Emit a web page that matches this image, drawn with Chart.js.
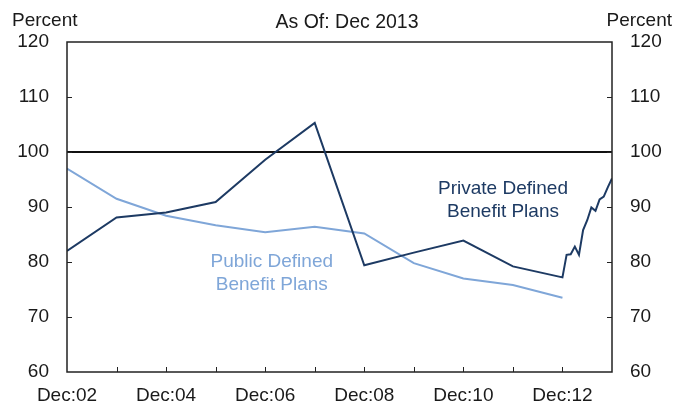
<!DOCTYPE html>
<html>
<head>
<meta charset="utf-8">
<script src="https://cdn.jsdelivr.net/npm/chart.js@4.4.1/dist/chart.umd.min.js"></script>
<style>
  html, body { margin: 0; padding: 0; background: #ffffff; }
  #wrap { width: 680px; height: 404px; position: relative; }
</style>
</head>
<body>
<div id="wrap"><canvas id="c" width="680" height="404"></canvas></div>
<script>
// ---- Data ----
const privateDates = ["2002-12","2003-12","2004-12","2005-12","2006-12","2007-12","2008-12","2009-12","2010-12","2011-12","2012-12",
  "2013-01","2013-02","2013-03","2013-04","2013-05","2013-06","2013-07","2013-08","2013-09","2013-10","2013-11","2013-12"];
const privateValues = [82.0, 88.1, 89.0, 90.9, 98.6, 105.3, 79.4, 81.7, 83.9, 79.2, 77.2,
  81.3, 81.4, 82.8, 81.3, 85.8, 87.6, 89.9, 89.3, 91.4, 91.9, 93.6, 95.2];
const publicDates = ["2002-12","2003-12","2004-12","2005-12","2006-12","2007-12","2008-12","2009-12","2010-12","2011-12","2012-12"];
const publicValues = [97.0, 91.5, 88.4, 86.7, 85.4, 86.4, 85.2, 79.8, 77.0, 75.8, 73.5];
const xTickLabels = ["Dec:02","Dec:04","Dec:06","Dec:08","Dec:10","Dec:12"];
const yTicks = [60, 70, 80, 90, 100, 110, 120];
const titleText = "As Of: Dec 2013";
const unitText = "Percent";
const privateLabel = ["Private Defined", "Benefit Plans"];
const publicLabel = ["Public Defined", "Benefit Plans"];

const PRIVATE_COLOR = "#1d3a63";
const PUBLIC_COLOR = "#7fa6d8";
const FONT = "'Liberation Sans', Arial, Helvetica, sans-serif";

// month index relative to Dec 2002
function monthIndex(s) {
  const [y, m] = s.split("-").map(Number);
  return (y - 2002) * 12 + (m - 12);
}
const privatePts = privateDates.map((d, i) => ({ x: monthIndex(d), y: privateValues[i] }));
const publicPts = publicDates.map((d, i) => ({ x: monthIndex(d), y: publicValues[i] }));

const decorPlugin = {
  id: "decor",
  beforeDatasetsDraw(chart) {
    const { ctx, chartArea: a, scales } = chart;
    const y = scales.y;
    ctx.save();
    ctx.strokeStyle = "#111";
    ctx.lineWidth = 2;
    const py = Math.round(y.getPixelForValue(100));
    ctx.beginPath();
    ctx.moveTo(a.left, py); ctx.lineTo(a.right, py);
    ctx.stroke();
    ctx.restore();
  },
  afterDatasetsDraw(chart) {
    const { ctx, chartArea: a, scales } = chart;
    const y = scales.y, x = scales.x;
    ctx.save();
    ctx.strokeStyle = "#222";
    ctx.lineWidth = 1.5;
    ctx.strokeRect(a.left, a.top, a.right - a.left, a.bottom - a.top);
    ctx.lineWidth = 1;
    ctx.beginPath();
    yTicks.forEach(v => {
      if (v === 60 || v === 120) return;
      const p = Math.round(y.getPixelForValue(v)) + 0.5;
      ctx.moveTo(a.left, p); ctx.lineTo(a.left + 5, p);
      ctx.moveTo(a.right, p); ctx.lineTo(a.right - 5, p);
    });
    for (let m = 12; m < 132; m += 12) {
      const p = Math.round(x.getPixelForValue(m)) + 0.5;
      ctx.moveTo(p, a.bottom); ctx.lineTo(p, a.bottom - 5);
    }
    ctx.stroke();

    ctx.fillStyle = "#1a1a1a";
    ctx.font = "19px " + FONT;
    ctx.textBaseline = "alphabetic";
    ctx.textAlign = "left";
    ctx.fillText(unitText, 12, 26);
    ctx.textAlign = "right";
    ctx.fillText(unitText, 672, 26);
    ctx.textAlign = "center";
    ctx.font = "19.5px " + FONT;
    ctx.fillText(titleText, 347, 28);

    ctx.font = "19px " + FONT;
    ctx.textBaseline = "middle";
    ctx.fillStyle = PRIVATE_COLOR;
    const pvx = x.getPixelForValue(105.6);
    ctx.fillText(privateLabel[0], pvx, y.getPixelForValue(93.3));
    ctx.fillText(privateLabel[1], pvx, y.getPixelForValue(89.1));
    ctx.fillStyle = PUBLIC_COLOR;
    const pbx = x.getPixelForValue(49.6);
    ctx.fillText(publicLabel[0], pbx, y.getPixelForValue(80.0));
    ctx.fillText(publicLabel[1], pbx, y.getPixelForValue(75.9));
    ctx.restore();
  }
};

const yTickCfg = (pad) => ({
  min: 60, max: 120,
  grid: { display: false, drawTicks: false },
  border: { display: false },
  ticks: { stepSize: 10, color: "#1a1a1a", padding: pad, font: { size: 19, family: FONT } }
});

const yLeft = Object.assign({ position: "left", afterFit(s) { s.width = 67; } }, yTickCfg(18));
const yRight = Object.assign({ position: "right", afterFit(s) { s.width = 68; } }, yTickCfg(18));

new Chart(document.getElementById("c"), {
  type: "line",
  data: {
    datasets: [
      { label: "Private Defined Benefit Plans", data: privatePts, borderColor: PRIVATE_COLOR, borderWidth: 2, pointRadius: 0, tension: 0, fill: false },
      { label: "Public Defined Benefit Plans", data: publicPts, borderColor: PUBLIC_COLOR, borderWidth: 2, pointRadius: 0, tension: 0, fill: false }
    ]
  },
  options: {
    responsive: false,
    animation: false,
    devicePixelRatio: 1,
    layout: { padding: { top: 42, left: 0, right: 0, bottom: 0 } },
    plugins: { legend: { display: false }, tooltip: { enabled: false }, title: { display: false } },
    scales: {
      x: {
        type: "linear", min: 0, max: 132,
        grid: { display: false, drawTicks: false },
        border: { display: false },
        afterFit(s) { s.height = 32; },
        afterBuildTicks(s) {
          s.ticks = xTickLabels.map((_, i) => ({ value: i * 24 }));
        },
        ticks: {
          autoSkip: false, maxRotation: 0, padding: 12, color: "#1a1a1a",
          font: { size: 19, family: FONT },
          callback(v) { const i = Math.round(v / 24); return xTickLabels[i] || ""; }
        }
      },
      y: yLeft,
      y2: yRight
    }
  },
  plugins: [decorPlugin]
});
</script>
</body>
</html>
